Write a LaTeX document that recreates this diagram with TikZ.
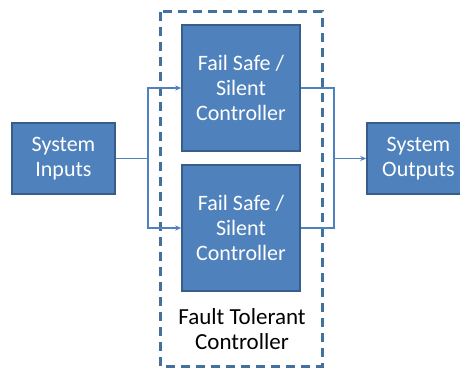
\documentclass[tikz,border=0pt]{standalone}
\usepackage{fontspec}
\setmainfont{Carlito}
\usetikzlibrary{arrows.meta}

\definecolor{blockfill}{HTML}{4F81BD}
\definecolor{blockedge}{HTML}{385D8A}
\definecolor{frameblue}{HTML}{41719C}

\begin{document}
\begin{tikzpicture}[x=1pt,y=-1pt,
  block/.style={draw=blockedge,line width=1.5pt,fill=blockfill,text=white,
    font=\fontsize{22}{25}\selectfont,align=center,inner sep=0pt},
  link/.style={draw=blockfill,line width=1.2pt},
  tip/.style={-{Stealth[length=6pt,width=5pt]}}
]
\useasboundingbox (0,0) rectangle (460,369);

% fault tolerant frame
\draw[frameblue,line width=3pt,dash pattern=on 9pt off 6pt] (160,12) rectangle (322,366);
\node[font=\fontsize{23}{25}\selectfont,align=center] (ftlabel) at (242,329) {Fault Tolerant\\Controller};

% blocks
\node[block,minimum width=103pt,minimum height=71pt] (inputs) at (63.5,158.5) {System\\Inputs};
\node[block,minimum width=118pt,minimum height=126pt] (ctrlA) at (241,88) {Fail Safe /\\Silent\\Controller};
\node[block,minimum width=118pt,minimum height=126pt] (ctrlB) at (241,228) {Fail Safe /\\Silent\\Controller};
\node[block,minimum width=103pt,minimum height=71pt] (outputs) at (418.5,158.5) {System\\Outputs};

% split and join points
\coordinate (split) at (148,158.5);
\coordinate (join) at (334,158.5);

\draw[link] (inputs) -- (split);
\draw[link,tip] (split) |- (ctrlA.west);
\draw[link,tip] (split) |- (ctrlB.west);
\draw[link] (ctrlA.east) -| (join);
\draw[link] (ctrlB.east) -| (join);
\draw[link,tip] (join) -- (outputs);
\end{tikzpicture}
\end{document}
